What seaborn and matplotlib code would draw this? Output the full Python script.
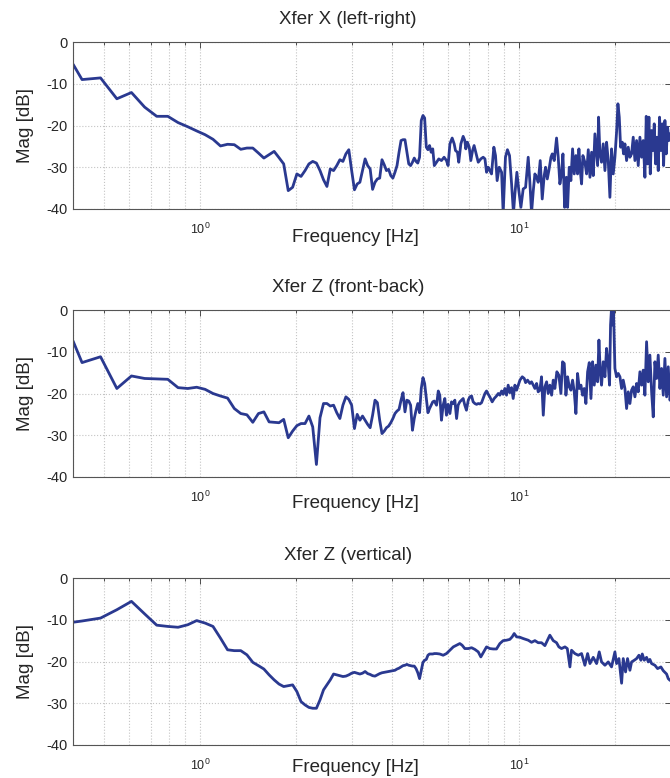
import numpy as np
import pandas as pd
import matplotlib
matplotlib.use("Agg")
import matplotlib.pyplot as plt
import seaborn as sns
from matplotlib.ticker import LogLocator, NullFormatter, FixedLocator

titles = ["Xfer X (left-right)", "Xfer Z (front-back)", "Xfer Z (vertical)"]

# Low-frequency FFT bins (Hz), shared by all three transfer functions
freq_bins = [
    0.400,
    0.427, 0.488, 0.549, 0.610, 0.671, 0.732, 0.793, 0.854, 0.916, 0.977,
    1.038, 1.099, 1.160, 1.221, 1.282, 1.343, 1.404, 1.465, 1.526, 1.587,
    1.648, 1.709, 1.770, 1.831, 1.892, 1.953, 2.014, 2.075, 2.136, 2.197,
    2.258, 2.319, 2.380, 2.441, 2.502, 2.563, 2.625, 2.686, 2.747, 2.808,
    2.869, 2.930, 2.991, 3.052, 3.113, 3.174, 3.235, 3.296, 3.357, 3.418,
    3.479, 3.540, 3.601, 3.662, 3.723, 3.784, 3.845, 3.906, 3.967, 4.028,
    4.089, 4.150, 4.211, 4.272, 4.333, 4.395, 4.456, 4.517, 4.578, 4.639,
    4.700, 4.761, 4.822, 4.883, 4.944, 5.005, 5.066, 5.127, 5.188, 5.249,
    5.310, 5.371, 5.432,
]

# Magnitudes (dB) on the low-frequency bins
mag_x_low = [
    -5.3,
    -9.0, -8.6, -13.6, -12.1, -15.6, -17.8, -17.8, -19.3, -20.3, -21.3,
    -22.2, -23.3, -24.9, -24.5, -24.6, -25.7, -25.4, -25.4, -26.6, -27.8,
    -27.0, -26.2, -27.7, -29.2, -35.6, -34.8, -31.6, -32.2, -30.8, -29.2,
    -28.6, -29.0, -30.8, -33.0, -34.6, -30.4, -30.8, -29.6, -28.2, -28.6,
    -26.8, -25.8, -30.8, -35.4, -34.0, -33.6, -30.8, -28.0, -29.6, -30.4,
    -35.3, -33.6, -32.8, -32.6, -28.2, -29.4, -30.8, -30.5, -32.0, -32.6,
    -31.2, -29.6, -26.4, -23.6, -23.4, -23.4, -26.4, -29.2, -29.6, -28.8,
    -27.8, -28.6, -29.0, -27.6, -18.8, -17.6, -18.2, -25.2, -25.8, -24.8,
    -26.4, -25.6, -29.6,
]
mag_zfb_low = [
    -7.4,
    -12.6, -11.2, -18.8, -15.8, -16.4, -16.5, -16.6, -18.6, -18.8, -18.5,
    -19.0, -20.0, -20.6, -21.1, -23.6, -24.8, -25.1, -26.9, -24.8, -24.4,
    -26.8, -26.9, -27.0, -26.2, -30.6, -29.0, -27.7, -27.2, -27.2, -25.4,
    -28.0, -37.0, -25.8, -22.4, -22.4, -23.0, -22.8, -24.6, -26.0, -22.8,
    -20.8, -21.4, -22.8, -28.4, -25.0, -26.4, -25.4, -26.4, -27.4, -28.2,
    -25.2, -21.6, -22.2, -26.4, -29.6, -29.0, -28.2, -27.8, -27.0, -26.0,
    -24.8, -24.2, -23.8, -21.6, -19.8, -24.4, -21.6, -21.8, -22.8, -28.8,
    -26.0, -24.0, -22.4, -24.6, -18.8, -16.2, -17.6, -21.2, -24.6, -23.6,
    -22.8, -22.0, -21.8,
]
mag_zv_low = [
    -10.6,
    -10.3, -9.6, -7.6, -5.6, -8.6, -11.3, -11.6, -11.8, -11.2, -10.2,
    -10.8, -11.6, -14.4, -17.2, -17.4, -17.4, -18.4, -20.2, -21.0, -21.8,
    -23.2, -24.4, -25.4, -26.0, -25.8, -25.6, -27.2, -29.6, -30.4, -31.0,
    -31.2, -31.2, -29.2, -26.8, -25.6, -24.4, -23.0, -23.2, -23.4, -23.6,
    -23.5, -23.2, -22.8, -22.6, -22.8, -23.0, -22.8, -22.4, -22.9, -23.1,
    -23.4, -23.5, -23.2, -22.9, -22.7, -22.6, -22.5, -22.4, -22.3, -22.2,
    -22.1, -21.8, -21.6, -21.3, -21.0, -20.9, -20.7, -20.9, -21.0, -21.1,
    -21.1, -21.7, -22.7, -24.1, -22.1, -20.2, -19.7, -19.5, -18.5, -18.2,
    -18.2, -18.2, -18.1,
]

# Upper band (Hz, dB): peak / trough vertices of the dense spectrum
freq_x_high = [
    5.52, 5.61, 5.72, 5.83, 5.93, 6.00, 6.08, 6.18, 6.27, 6.33, 6.42, 6.48,
    6.58, 6.69, 6.77, 6.82, 6.90, 6.99, 7.07, 7.16, 7.24, 7.37, 7.46, 7.60,
    7.73, 7.83, 7.92, 8.02, 8.11, 8.21, 8.35, 8.45, 8.55, 8.68, 8.83, 8.93,
    9.08, 9.21, 9.35, 9.49, 9.62, 9.72, 9.86, 10.00, 10.15, 10.32, 10.50,
    10.70, 10.83, 10.96, 11.10, 11.23, 11.37, 11.50, 11.67, 11.84, 12.01,
    12.13, 12.28, 12.42, 12.61, 12.73, 12.91, 13.13, 13.29, 13.45, 13.61,
    13.75, 13.92, 14.09, 14.22, 14.39, 14.56, 14.74, 14.92, 15.10, 15.28,
    15.43, 15.58, 15.73, 15.88, 16.11, 16.31, 16.51, 16.71, 16.91, 17.11,
    17.32, 17.53, 17.66, 17.78, 17.96, 18.17, 18.39, 18.62, 18.84, 19.07,
    19.30, 19.53, 19.77, 20.01, 20.25, 20.45, 20.65, 20.85, 21.10, 21.30,
    21.51, 21.77, 22.03, 22.30, 22.57, 22.84, 23.12, 23.40, 23.68, 23.97,
    24.26, 24.55, 24.85, 25.09, 25.33, 25.58, 25.83, 26.08, 26.33, 26.58,
    26.84, 27.10, 27.36, 27.62, 27.89, 28.17, 28.44, 28.71, 28.99, 29.27,
    29.55, 29.77, 31.0,
]
mag_x_high = [
    -28.8, -28.0, -28.4, -27.6, -28.4, -29.6, -24.4, -23.0, -24.4, -26.0, -26.4, -28.8,
    -24.4, -22.6, -23.6, -25.6, -24.0, -25.2, -28.4, -26.0, -24.8, -27.2, -28.8, -28.0,
    -27.6, -28.0, -31.2, -30.0, -30.8, -31.6, -25.2, -27.2, -33.2, -30.0, -31.2, -41.0,
    -27.6, -25.8, -27.2, -34.0, -41.0, -36.4, -31.2, -35.6, -39.6, -35.2, -34.8,
    -27.6, -33.6, -41.0, -35.6, -31.6, -32.4, -33.6, -28.4, -37.6, -32.0,
    -30.0, -32.8, -30.8, -27.6, -26.8, -28.4, -23.0, -27.6, -34.0, -31.6,
    -26.8, -39.6, -32.4, -39.6, -30.0, -33.2, -25.6, -31.6, -27.2, -31.6,
    -25.6, -30.8, -34.0, -27.2, -28.8, -31.6, -25.8, -32.4, -26.4, -32.0,
    -22.0, -26.8, -29.6, -18.0, -26.8, -28.8, -24.4, -30.8, -24.0, -28.4,
    -37.2, -25.6, -31.6, -27.6, -21.6, -14.8, -18.0, -25.2, -24.0, -26.8,
    -24.4, -28.4, -25.2, -27.6, -26.8, -22.8, -28.4, -23.6, -29.6, -22.8,
    -27.6, -23.6, -32.4, -17.8, -29.2, -18.0, -31.6, -21.2, -26.0, -19.6,
    -29.2, -22.8, -30.8, -18.0, -26.0, -19.6, -29.6, -18.8, -26.8, -20.4,
    -23.6, -22.0, -24.0,
]

freq_zfb_high = [
    5.52, 5.59, 5.65, 5.72, 5.79, 5.86, 5.93, 6.00, 6.08, 6.15, 6.23, 6.30,
    6.38, 6.45, 6.53, 6.61, 6.69, 6.77, 6.85, 6.94, 7.02, 7.11, 7.19, 7.28,
    7.37, 7.46, 7.55, 7.64, 7.83, 7.92, 8.02, 8.11, 8.25, 8.37, 8.51, 8.62,
    8.72, 8.83, 8.93, 9.04, 9.15, 9.26, 9.37, 9.49, 9.60, 9.72, 9.84, 9.96,
    10.08, 10.25, 10.40, 10.50, 10.65, 10.83, 10.96, 11.10, 11.23, 11.37,
    11.50, 11.64, 11.78, 11.93, 12.07, 12.22, 12.36, 12.51, 12.67, 12.82,
    12.97, 13.16, 13.35, 13.55, 13.71, 13.88, 14.05, 14.22, 14.39, 14.56,
    14.74, 14.92, 15.10, 15.28, 15.47, 15.66, 15.84, 16.03, 16.23, 16.43,
    16.63, 16.83, 17.03, 17.24, 17.45, 17.66, 17.83, 18.00, 18.17, 18.39,
    18.62, 18.84, 19.07, 19.25, 19.39, 19.53, 19.67, 19.81, 20.01, 20.25,
    20.50, 20.75, 21.00, 21.25, 21.51, 21.77, 22.03, 22.30, 22.57, 22.84,
    23.12, 23.40, 23.68, 23.97, 24.26, 24.55, 24.85, 25.15, 25.46, 25.76,
    26.08, 26.39, 26.71, 27.04, 27.36, 27.69, 28.03, 28.37, 28.71, 29.06,
    29.41, 29.77, 31.0,
]
mag_zfb_high = [
    -22.8, -19.4, -20.4, -26.4, -22.8, -21.2, -25.2, -22.6, -24.8, -22.0, -22.4, -21.6,
    -26.0, -22.8, -22.0, -21.6, -21.2, -22.8, -24.0, -21.6, -20.8, -20.6, -22.0, -22.4,
    -22.6, -22.4, -22.5, -22.2, -20.0, -19.4, -20.2, -20.8, -22.0, -21.2, -20.6, -20.0,
    -20.4, -19.4, -20.2, -18.8, -20.4, -18.0, -19.8, -18.6, -21.2, -18.0, -19.2, -18.0,
    -16.8, -16.0, -16.4, -17.4, -16.8, -17.6, -17.2, -18.0, -18.8, -17.6,
    -19.6, -19.2, -16.0, -25.2, -18.4, -17.2, -20.0, -18.0, -20.4, -16.8,
    -18.8, -14.8, -15.6, -20.0, -12.4, -12.8, -20.4, -16.0, -18.4, -19.2,
    -16.8, -19.6, -24.8, -15.2, -18.8, -18.0, -20.4, -18.8, -22.4, -14.8,
    -12.6, -21.2, -12.4, -18.0, -13.2, -17.2, -7.2, -14.8, -18.0, -12.4,
    -16.0, -9.2, -13.2, -18.0, -3.6, 0.5, -3.6, 0.0, -14.0, -16.0,
    -15.2, -16.0, -18.8, -16.8, -18.8, -23.6, -19.6, -22.4, -19.2, -18.4,
    -20.8, -17.6, -19.6, -14.8, -18.0, -14.4, -20.4, -7.6, -17.2, -10.8,
    -19.6, -25.6, -12.4, -16.4, -10.8, -18.8, -14.0, -20.4, -11.6, -20.8,
    -13.6, -21.6, -18.0,
]

freq_zv_high = [
    5.52, 5.65, 5.79, 5.93, 6.08, 6.23, 6.38, 6.53, 6.64, 6.77, 6.94, 7.11,
    7.28, 7.46, 7.60, 7.73, 7.92, 8.11, 8.31, 8.51, 8.72, 8.93, 9.15, 9.37,
    9.53, 9.67, 9.84, 10.08, 10.32, 10.70, 10.96, 11.23, 11.50, 11.78, 12.07,
    12.30, 12.51, 12.82, 13.13, 13.35, 13.61, 13.95, 14.19, 14.46, 14.63,
    14.99, 15.36, 15.73, 16.11, 16.43, 16.71, 17.11, 17.53, 17.87, 18.17,
    18.62, 19.07, 19.53, 20.01, 20.25, 20.60, 21.00, 21.25, 21.61, 21.92,
    22.30, 22.57, 23.01, 23.40, 23.80, 24.14, 24.38, 24.73, 25.15, 25.46,
    25.76, 26.08, 26.71, 27.23, 27.89, 28.37, 29.06, 29.41, 29.77, 31.0,
]
mag_zv_high = [
    -18.1, -18.2, -18.5, -18.1, -17.3, -16.5, -16.1, -15.7, -16.1, -16.9, -16.9, -16.7,
    -17.1, -17.7, -18.9, -17.9, -16.5, -16.9, -17.0, -17.0, -15.7, -15.0, -14.9, -14.7,
    -14.1, -13.3, -14.1, -14.2, -14.5, -14.9, -15.4, -15.0, -15.5, -15.5, -16.2,
    -14.9, -13.7, -15.0, -15.5, -16.5, -16.9, -16.5, -16.9, -21.3, -17.3,
    -18.1, -18.5, -18.1, -20.9, -18.1, -20.5, -19.0, -20.5, -17.7, -20.1,
    -20.9, -20.1, -21.3, -17.7, -20.5, -19.3, -25.2, -19.3, -22.5, -19.3,
    -22.1, -20.1, -19.7, -19.3, -18.5, -19.7, -18.2, -19.7, -19.0, -20.1,
    -19.5, -20.5, -20.9, -21.7, -21.3, -22.2, -23.0, -24.1, -24.5, -25.0,
]

series = [
    (freq_bins + freq_x_high, mag_x_low + mag_x_high),
    (freq_bins + freq_zfb_high, mag_zfb_low + mag_zfb_high),
    (freq_bins + freq_zv_high, mag_zv_low + mag_zv_high),
]

line_color = "#2a3990"
grid_color = "#c4c4c4"
spine_color = "#555555"

sns.set_theme(style="white")
plt.rcParams["font.family"] = ["Liberation Sans", "DejaVu Sans"]
plt.rcParams["axes.unicode_minus"] = False

fig = plt.figure(figsize=(6.70, 7.78), dpi=100)

W, H = 670.0, 778.0
ax_left, ax_width, ax_height = 73 / W, 598 / W, 167 / H
ax_tops = [42, 310, 578]
xlabel_offsets = [29, 26, 22]   # px below each axes

for title, (f, m), top, xoff in zip(titles, series, ax_tops, xlabel_offsets):
    ax = fig.add_axes([ax_left, 1 - (top + 167) / H, ax_width, ax_height])
    ax.set_xscale("log")
    df = pd.DataFrame({"freq": f, "mag": m})
    sns.lineplot(data=df, x="freq", y="mag", ax=ax, color=line_color,
                 linewidth=2.0, estimator=None, sort=False)

    ax.set_xlim(0.4, 30)
    ax.set_ylim(-40, 0)
    ax.yaxis.set_major_locator(FixedLocator([-40, -30, -20, -10, 0]))
    ax.xaxis.set_major_locator(LogLocator(base=10))
    ax.xaxis.set_minor_locator(LogLocator(base=10, subs=np.arange(2, 10)))
    ax.xaxis.set_minor_formatter(NullFormatter())

    ax.grid(True, which="major", axis="both", color=grid_color,
            linestyle=":", linewidth=0.8)
    ax.grid(True, which="minor", axis="x", color=grid_color,
            linestyle=":", linewidth=0.8)
    ax.set_axisbelow(True)

    for s in ax.spines.values():
        s.set_color(spine_color)
        s.set_linewidth(0.8)
        s.set_visible(True)

    ax.tick_params(axis="both", which="both", direction="in",
                   top=True, right=True, color="#333333", width=0.6)
    ax.tick_params(axis="both", which="major", length=4)
    ax.tick_params(axis="both", which="minor", length=2)
    ax.tick_params(axis="y", labelsize=10.5, pad=4, labelcolor="#262626")
    ax.tick_params(axis="x", labelsize=9, pad=9, labelcolor="#262626")

    ax.set_xlabel("Frequency [Hz]", fontsize=13.5, color="#262626", va="center")
    ax.xaxis.set_label_coords((355 - 73) / 598, -xoff / 167)
    ax.set_ylabel("Mag [dB]", fontsize=13.5, color="#262626", va="center")
    ax.yaxis.set_label_coords((25 - 73) / 598, 0.5)
    ax.set_title(title, fontsize=13.5, color="#262626", pad=0,
                 x=(348 - 73) / 598, y=1 + 23 / 167, va="center")

fig.savefig("out.png", dpi=100)
